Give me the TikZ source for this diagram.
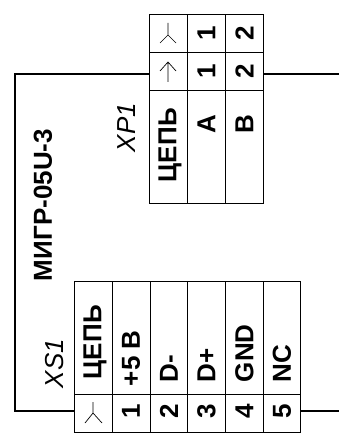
\documentclass[tikz,border=0pt]{standalone}
\usepackage{fontspec}
\setmainfont{Liberation Sans}
\tikzset{
  cell/.style={draw=black,line width=1pt,inner sep=0pt,outer sep=0pt,anchor=north west},
  lbl/.style={rotate=90,inner sep=0pt,outer sep=0pt,font=\fontsize{26}{26}\bfseries\selectfont,text=black},
  ref/.style={rotate=90,inner sep=0pt,outer sep=0pt,font=\fontsize{26}{26}\itshape\selectfont,text=black},
  wire/.style={line width=1.5pt,draw=black},
  sym/.style={line width=0.7pt,draw=black}
}
\newcommand{\cellbox}[5]{\node[cell,minimum width=#4pt,minimum height=#5pt] (#1) at (#2,#3) {};}
\begin{document}
\begin{tikzpicture}[x=1pt,y=-1pt]
\useasboundingbox (0,0) rectangle (339,433);
% XP1
\cellbox{pa}{149.5}{15}{38}{37.5}
\cellbox{pb}{187.5}{15}{38}{37.5}
\cellbox{pc}{225.5}{15}{38}{37.5}
\cellbox{qa}{149.5}{52.5}{38}{38}
\cellbox{qb}{187.5}{52.5}{38}{38}
\cellbox{qc}{225.5}{52.5}{38}{38}
\cellbox{ra}{149.5}{90.5}{38}{113}
\cellbox{rb}{187.5}{90.5}{38}{113}
\cellbox{rc}{225.5}{90.5}{38}{113}
% XS1
\cellbox{sa}{74}{281}{38}{113}
\cellbox{sb}{112}{281}{38}{113}
\cellbox{sc}{150}{281}{37.5}{113}
\cellbox{sd}{187.5}{281}{38}{113}
\cellbox{se}{225.5}{281}{37.5}{113}
\cellbox{sf}{263}{281}{37.5}{113}
\cellbox{ta}{74}{394}{38}{38}
\cellbox{tb}{112}{394}{38}{38}
\cellbox{tc}{150}{394}{37.5}{38}
\cellbox{td}{187.5}{394}{38}{38}
\cellbox{te}{225.5}{394}{37.5}{38}
\cellbox{tf}{263}{394}{37.5}{38}
% XP1 text
\node[lbl] (pb1) at (206.5,33) {1};
\node[lbl] (pc2) at (244.5,33) {2};
\node[lbl] (qb1) at (206.5,71) {1};
\node[lbl] (qc2) at (244.5,71) {2};
\node[lbl,anchor=west] (rat) at (170,182) {ЦЕПЬ};
\node[lbl] (rbt) at (206.5,124) {А};
\node[lbl] (rct) at (244.5,124) {В};
\node[ref,anchor=west] (xp) at (127,152) {XP1};
% XS1 text
\node[lbl,anchor=west] (sat) at (95,379) {ЦЕПЬ};
\node[lbl,anchor=west] (sbt) at (131,386) {+5 В};
\node[lbl,anchor=west] (sct) at (169,382) {D-};
\node[lbl,anchor=west] (sdt) at (206.5,382) {D+};
\node[lbl,anchor=west] (set) at (244.5,382) {GND};
\node[lbl,anchor=west] (sft) at (282,382) {NC};
\node[lbl] (t1) at (131,411) {1};
\node[lbl] (t2) at (169,411) {2};
\node[lbl] (t3) at (206.5,411) {3};
\node[lbl] (t4) at (244.5,411) {4};
\node[lbl] (t5) at (282,411) {5};
\node[ref,anchor=west] (xs) at (55,388) {XS1};
\node[lbl,anchor=west] (cable) at (43,281) {МИГР-05U-3};
% symbols
\draw[sym] (168,23) -- (168,35) (160,43) -- (168,35) -- (176,43);
\draw[sym] (168,82) -- (168,62) (160,71) -- (168,62) -- (176,71);
\draw[sym] (93,402) -- (93,413) (85,423) -- (93,413) -- (102,423);
% wires
\coordinate (bendA) at (15,74);
\coordinate (bendB) at (15,411);
\coordinate (endA) at (339,74);
\coordinate (endB) at (339,411);
\draw[wire] (qa.west |- endA) -- (bendA) -- (bendB) -- (ta.west |- endB);
\draw[wire] (qc.east |- endA) -- (endA);
\draw[wire] (tf.east |- endB) -- (endB);
\end{tikzpicture}
\end{document}
